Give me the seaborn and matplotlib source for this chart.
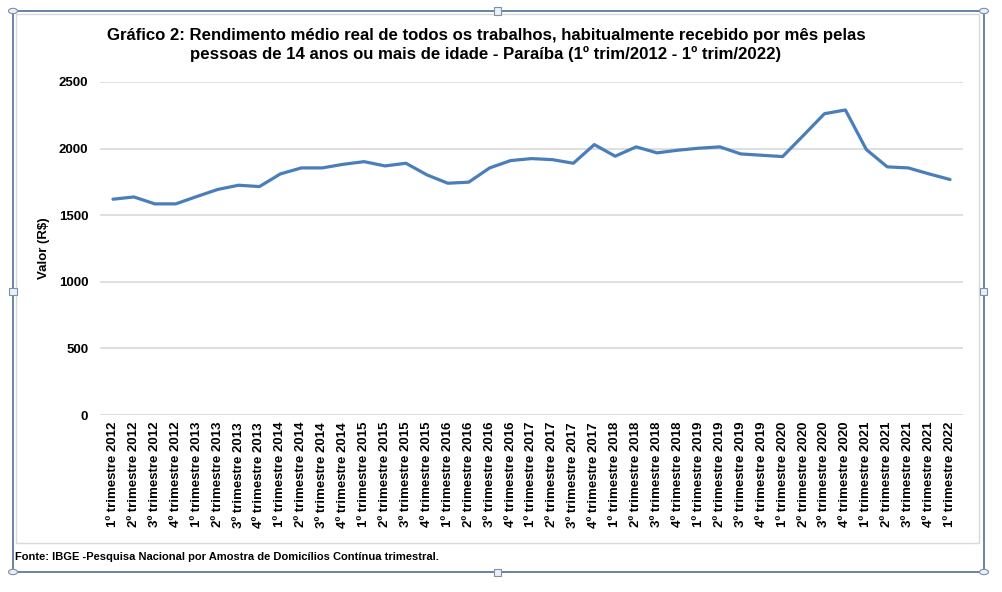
import matplotlib
matplotlib.use("Agg")
import matplotlib.pyplot as plt
import seaborn as sns
import pandas as pd
from matplotlib.patches import Rectangle, Circle

# Data
quarters = ["1º", "2º", "3º", "4º"]
years = list(range(2012, 2023))
labels = [f"{q} trimestre {y}" for y in years for q in quarters][:41]
values = [1620, 1637, 1585, 1585, 1640, 1693, 1725, 1715, 1810, 1855,
          1855, 1882, 1902, 1870, 1890, 1803, 1740, 1748, 1855, 1910,
          1925, 1917, 1890, 2030, 1943, 2013, 1968, 1988, 2003, 2013,
          1960, 1950, 1940, 2100, 2262, 2290, 1993, 1863, 1855, 1810,
          1768]
yticks = [0, 500, 1000, 1500, 2000, 2500]

df = pd.DataFrame({"idx": range(len(values)), "valor": values})

sns.set_theme(style="white")
plt.rcParams["font.family"] = ["Liberation Sans", "DejaVu Sans"]
plt.rcParams["text.color"] = "black"
plt.rcParams["axes.labelcolor"] = "black"
plt.rcParams["xtick.color"] = "black"
plt.rcParams["ytick.color"] = "black"

W, H = 1003, 592
fig = plt.figure(figsize=(W / 100, H / 100), dpi=100)
fig.patch.set_facecolor("white")

def px(x, y):
    return x / W, 1 - y / H

# chart frame (outer selection border + inner light border)
x0, y0 = px(13, 572)
x1, y1 = px(984, 11)
fig.add_artist(Rectangle((x0, y0), x1 - x0, y1 - y0, transform=fig.transFigure,
                         fill=False, edgecolor="#4f6f95", linewidth=1.2))
ix0, iy0 = px(16, 543)
ix1, iy1 = px(979, 14)
fig.add_artist(Rectangle((ix0, iy0), ix1 - ix0, iy1 - iy0, transform=fig.transFigure,
                         fill=False, edgecolor="#d9d9d9", linewidth=1.0))

ax = fig.add_axes([100 / W, 1 - 415 / H, 863 / W, 333 / H])
sns.lineplot(data=df, x="idx", y="valor", ax=ax, color="#4a7ebb", linewidth=2.3)

ax.set_ylim(0, 2500)
ax.set_xlim(-0.62, len(values) - 0.38)
ax.set_yticks(yticks)
ax.set_yticklabels([str(v) for v in yticks], fontsize=9.5, fontweight="bold")
ax.set_xticks(range(len(labels)))
ax.set_xticklabels(labels, rotation=90, fontsize=9.5, fontweight="bold")
ax.tick_params(axis="y", length=0, pad=8.5)
ax.tick_params(axis="x", length=0, pad=5)
ax.yaxis.grid(True, color="#d9d9d9", linewidth=1.2)
ax.xaxis.grid(False)
for s in ax.spines.values():
    s.set_visible(False)
ax.set_xlabel("")
ax.set_ylabel("Valor (R$)", fontsize=9.5, fontweight="bold", labelpad=6)

fig.text(486 / W, 1 - 45 / H,
         "Gráfico 2: Rendimento médio real de todos os trabalhos, habitualmente recebido por mês pelas\n"
         "pessoas de 14 anos ou mais de idade - Paraíba (1º trim/2012 - 1º trim/2022)",
         ha="center", va="center", fontsize=12.05, fontweight="bold", linespacing=1.22)

fig.text(15 / W, 1 - 557 / H,
         "Fonte: IBGE -Pesquisa Nacional por Amostra de Domicílios Contínua trimestral.",
         ha="left", va="center", fontsize=8, fontweight="bold",
         family=["Liberation Sans Narrow", "Liberation Sans", "DejaVu Sans"])

# selection handles
for (hx, hy) in [(13, 11), (984, 11), (13, 572), (984, 572)]:
    cx, cy = px(hx, hy)
    fig.add_artist(Circle((cx, cy), 4.5 / W, transform=fig.transFigure,
                          facecolor="#e8f0f8", edgecolor="#7f8fa6", linewidth=0.8))
for (hx, hy) in [(498, 11), (498, 572), (13, 291), (984, 291)]:
    cx, cy = px(hx, hy)
    fig.add_artist(Rectangle((cx - 3.5 / W, cy - 3.5 / H), 7 / W, 7 / H,
                             transform=fig.transFigure,
                             facecolor="#e8f0f8", edgecolor="#7f8fa6", linewidth=0.8))

fig.savefig("out.png", dpi=100, facecolor="white")
